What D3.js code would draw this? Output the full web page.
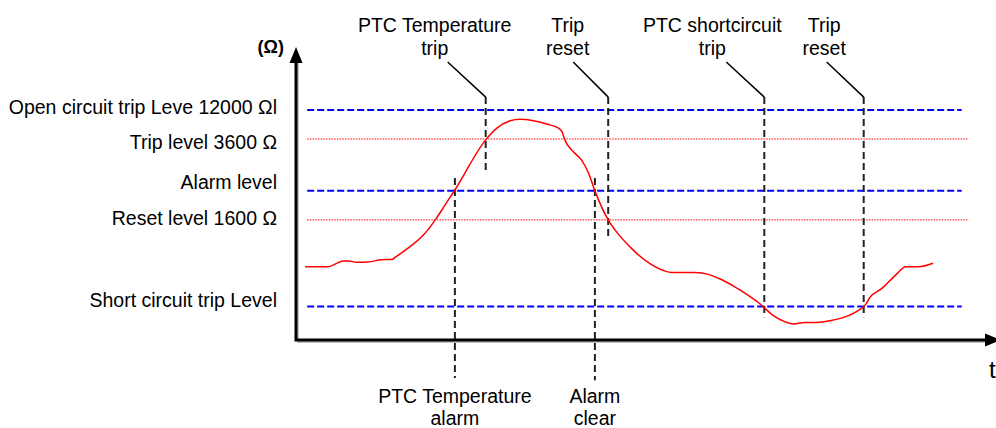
<!DOCTYPE html>
<html><head><meta charset="utf-8">
<script src="https://cdn.jsdelivr.net/npm/d3@7"></script>
<style>
body{margin:0;background:#fff}
svg{display:block}
text{font-family:"Liberation Sans",Arial,sans-serif;fill:#000}
</style>
</head><body>
<svg id="chart" width="996" height="428"></svg>
<script>
// ---------------- DATA ----------------
const levelNames  = ["Open circuit trip Leve 12000 \u03A9l", "Trip level 3600 \u03A9", "Alarm level", "Reset level 1600 \u03A9", "Short circuit trip Level"];
const levelValues = [78.5, 68.6, 50.9, 41.0, 11.4];
const levelKinds  = ["trip", "reset", "trip", "reset", "trip"]; // blue dashed vs red dotted
const levelStart  = 1.6;
const levelEnds   = [95.1, 95.9, 95.1, 95.9, 95.1];

const eventNames  = [["PTC Temperature", "alarm"], ["PTC Temperature", "trip"], ["Alarm", "clear"], ["Trip", "reset"], ["PTC shortcircuit", "trip"], ["Trip", "reset"]];
const eventTimes  = [22.7, 27.1, 42.7, 44.6, 66.9, 81.1];
const eventTop    = [55.3, 82.9, 55.3, 82.9, 82.9, 82.9];
const eventBottom = [-13.0, 58.0, -13.7, 35.2, 7.8, 7.8];
const eventSide   = ["bottom", "top", "bottom", "top", "top", "top"];

const curveTimes  = [1.3, 4.5, 6.8, 7.5, 8.7, 10.3, 12.2, 13.7, 14.1, 15.8, 18.2, 19.9, 21.3, 22.7, 27.1, 28.7, 30.6, 32.0, 33.9, 35.8, 37.5, 38.0, 38.4, 39.6, 40.8, 41.8, 42.7, 44.6, 45.6, 48.0, 50.1, 52.5, 53.7, 57.0, 58.9, 60.6, 62.5, 64.4, 66.0, 66.8, 68.2, 69.9, 71.0, 72.7, 74.4, 76.3, 79.1, 80.3, 81.3, 82.0, 83.7, 85.8, 87.1, 88.9, 91.0];
const curveValues = [25.0, 25.0, 27.0, 27.0, 26.5, 26.6, 27.4, 27.5, 28.1, 31.0, 35.8, 41.0, 46.1, 51.2, 68.3, 72.3, 74.8, 75.3, 74.8, 73.7, 72.3, 71.1, 68.3, 64.3, 61.4, 56.9, 50.9, 41.0, 37.5, 31.1, 26.8, 23.7, 23.0, 23.0, 22.4, 20.8, 18.4, 15.6, 12.9, 11.2, 8.3, 6.2, 5.5, 6.0, 6.0, 6.6, 8.5, 10.0, 11.9, 14.6, 17.6, 22.5, 25.0, 25.0, 26.2];

const yAxisLabel = "(\u03A9)";
const xAxisLabel = "t";

// ---------------- LAYOUT ----------------
const svg = d3.select("#chart");
const x = d3.scaleLinear().domain([0, 100]).range([296, 996]);
const y = d3.scaleLinear().domain([0, 100]).range([340, 47]);
const FS = 19.5;
const levelLabelDy = [4, 10, -2, 5, 0.5];
const topLabelDx  = {1: -51, 3: -40.5, 4: -52, 5: -39.5};
const leaderDx    = {1: -38, 3: -35, 4: -38, 5: -37};

// level lines
levelValues.forEach((v, i) => {
  const trip = levelKinds[i] === "trip";
  svg.append("line")
    .attr("x1", x(levelStart)).attr("x2", x(levelEnds[i]))
    .attr("y1", y(v)).attr("y2", y(v))
    .attr("stroke", trip ? "#0000ff" : "#ff0000")
    .attr("stroke-width", trip ? 2 : 1)
    .attr("stroke-dasharray", trip ? "7,3" : "1.5,1.2");
  svg.append("text")
    .attr("x", 277).attr("y", y(v) + levelLabelDy[i])
    .attr("text-anchor", "end").attr("font-size", FS)
    .text(levelNames[i]);
});

// event lines + labels
eventTimes.forEach((t, i) => {
  const ex = x(t);
  svg.append("line")
    .attr("x1", ex).attr("x2", ex)
    .attr("y1", y(eventTop[i])).attr("y2", y(eventBottom[i]))
    .attr("stroke", "#222").attr("stroke-width", 2)
    .attr("stroke-dasharray", "7,4");
  const lines = eventNames[i];
  if (eventSide[i] === "top") {
    const cx = ex + topLabelDx[i];
    lines.forEach((s, k) => {
      svg.append("text").attr("x", cx).attr("y", 32 + k * 23)
        .attr("text-anchor", "middle").attr("font-size", FS).text(s);
    });
    svg.append("line")
      .attr("x1", ex + leaderDx[i]).attr("y1", 62)
      .attr("x2", ex).attr("y2", y(eventTop[i]))
      .attr("stroke", "#000").attr("stroke-width", 1.5);
  } else {
    lines.forEach((s, k) => {
      svg.append("text").attr("x", ex).attr("y", 403 + k * 22)
        .attr("text-anchor", "middle").attr("font-size", FS).text(s);
    });
  }
});

// curve
const pts = curveTimes.map((t, i) => [t, curveValues[i]]);
svg.append("path")
  .attr("d", d3.line().x(d => x(d[0])).y(d => y(d[1])).curve(d3.curveMonotoneX)(pts))
  .attr("fill", "none").attr("stroke", "#ff0000").attr("stroke-width", 1.5);

// axes
const x0 = x.range()[0], y0 = y.range()[0], yTop = y.range()[1];
const xTip = x(100) + 5;
// shadow
svg.append("path").attr("d", `M${x0+2},${yTop+16} V${y0+2} H${xTip-16}`)
  .attr("fill", "none").attr("stroke", "#aaa").attr("stroke-width", 1.5);
svg.append("path").attr("d", `M${x0},${yTop+14} V${y0} H${xTip-14}`)
  .attr("fill", "none").attr("stroke", "#000").attr("stroke-width", 3);
svg.append("path").attr("d", `M${x0},${yTop} L${x0-6.5},${yTop+16} L${x0+6.5},${yTop+16} Z`).attr("fill", "#000");
svg.append("path").attr("d", `M${xTip},${y0} L${xTip-16},${y0-6.5} L${xTip-16},${y0+6.5} Z`).attr("fill", "#000");

svg.append("text").attr("x", 284).attr("y", 53).attr("text-anchor", "end")
  .attr("font-size", 18).attr("font-weight", "bold").text(yAxisLabel);
svg.append("text").attr("x", 989).attr("y", 378)
  .attr("font-size", 24).text(xAxisLabel);
</script>
</body></html>
